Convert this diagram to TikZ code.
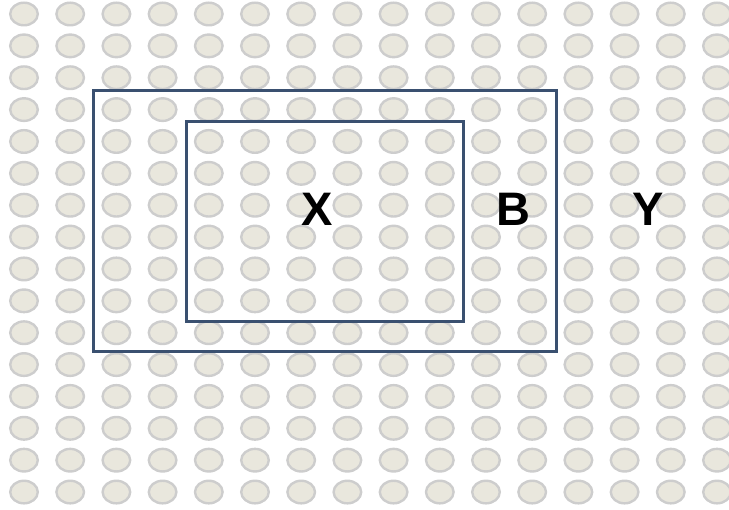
\documentclass[tikz,border=0pt]{standalone}
\usepackage{fontspec}
\setmainfont{Liberation Sans}
\usetikzlibrary{positioning}
\definecolor{dotFill}{HTML}{E9E7DD}
\definecolor{dotEdge}{HTML}{CDCDCD}
\definecolor{boxBlue}{HTML}{3A5070}

\begin{document}
\begin{tikzpicture}[x=1pt, y=-1pt,
    every node/.style={font=\bfseries\fontsize{47}{47}\selectfont, inner sep=0pt},
    dot/.style={draw=dotEdge, fill=dotFill, line width=2.4pt},
    region/.style={draw=boxBlue, line width=3pt}]
  \useasboundingbox (0,0) rectangle (729,510);
  % background grid of dots
  \foreach \col in {0,...,15}
    \foreach \row in {0,...,15}
      \path[dot] (24+46.2*\col, 14+31.87*\row) ellipse [x radius=13.8pt, y radius=11.3pt];
  % nested regions
  \path[region] (93,91) rectangle (556,352);
  \path[region] (186,122) rectangle (463,322);
  \node (X) at (317,209) {X};
  \node (B) at (513,209) {B};
  \node (Y) at (648,209) {Y};
\end{tikzpicture}
\end{document}
